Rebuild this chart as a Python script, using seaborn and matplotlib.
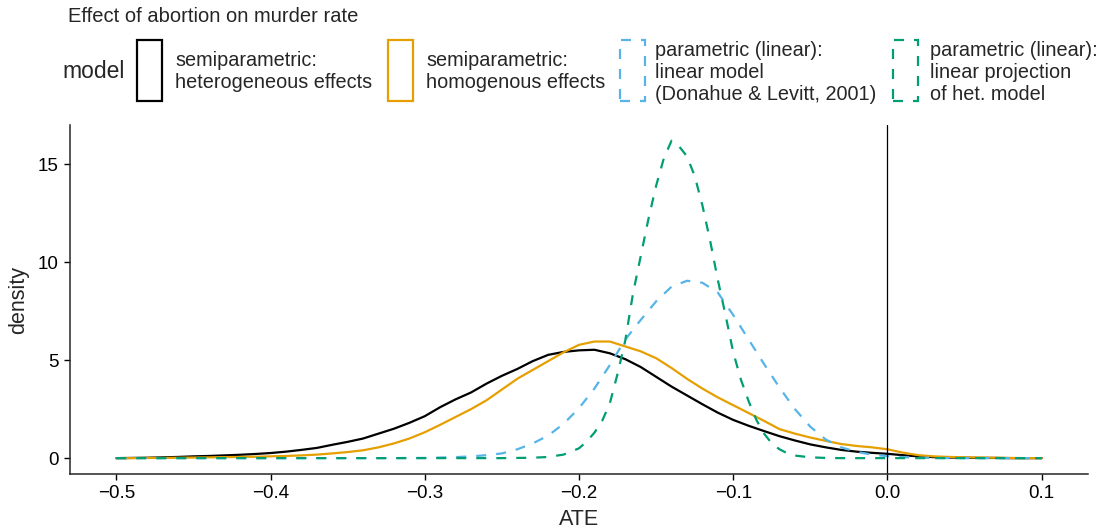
import numpy as np
import pandas as pd
import matplotlib
matplotlib.use('Agg')
import matplotlib.pyplot as plt
from matplotlib.patches import Rectangle
import seaborn as sns

sns.set_style('ticks')
plt.rcParams['font.family'] = ['Liberation Sans', 'DejaVu Sans']

# ATE grid (step 0.01) used by the first three curves
ate = np.round(np.arange(-0.50, 0.1001, 0.01), 2)

# semiparametric: heterogeneous effects (black)
dens_het = [0.00, 0.01, 0.02, 0.04, 0.06, 0.09, 0.11, 0.14, 0.17, 0.21,
            0.26, 0.33, 0.42, 0.52, 0.68, 0.83, 1.00, 1.25, 1.50, 1.80,
            2.14, 2.60, 3.00, 3.35, 3.80, 4.20, 4.55, 4.95, 5.27, 5.42,
            5.50, 5.53, 5.35, 5.05, 4.65, 4.15, 3.65, 3.20, 2.75, 2.32,
            1.95, 1.65, 1.38, 1.12, 0.90, 0.70, 0.55, 0.42, 0.33, 0.27,
            0.22, 0.15, 0.09, 0.05, 0.03, 0.02, 0.01, 0.01, 0.00, 0.00, 0.00]

# semiparametric: homogenous effects (orange)
dens_hom = [0.00, 0.00, 0.01, 0.01, 0.02, 0.03, 0.04, 0.05, 0.06, 0.07,
            0.09, 0.11, 0.14, 0.18, 0.24, 0.31, 0.40, 0.55, 0.75, 1.00,
            1.32, 1.70, 2.10, 2.50, 2.95, 3.50, 4.05, 4.50, 4.95, 5.40,
            5.78, 5.95, 5.95, 5.70, 5.45, 5.10, 4.60, 4.05, 3.55, 3.10,
            2.70, 2.30, 1.90, 1.48, 1.25, 1.05, 0.88, 0.72, 0.62, 0.55,
            0.45, 0.28, 0.15, 0.09, 0.06, 0.04, 0.03, 0.02, 0.01, 0.00, 0.00]

# parametric (linear): linear model, Donahue & Levitt (blue)
dens_lin = [0.00, 0.00, 0.00, 0.00, 0.00, 0.00, 0.00, 0.00, 0.00, 0.00,
            0.00, 0.00, 0.00, 0.00, 0.00, 0.00, 0.00, 0.00, 0.00, 0.01,
            0.01, 0.03, 0.05, 0.09, 0.15, 0.24, 0.45, 0.75, 1.15, 1.75,
            2.55, 3.55, 4.75, 6.05, 7.05, 8.00, 8.75, 9.05, 8.95, 8.45,
            7.30, 6.05, 4.80, 3.60, 2.50, 1.60, 0.95, 0.55, 0.32, 0.18,
            0.10, 0.05, 0.02, 0.01, 0.00, 0.00, 0.00, 0.00, 0.00, 0.00, 0.00]

# parametric (linear): linear projection of het. model (green), finer grid near the peak
ate_proj = [-0.50, -0.40, -0.30, -0.25, -0.23, -0.22, -0.21, -0.20, -0.195, -0.19,
            -0.185, -0.18, -0.175, -0.17, -0.165, -0.16, -0.155, -0.15, -0.145, -0.14,
            -0.135, -0.13, -0.125, -0.12, -0.115, -0.11, -0.105, -0.10, -0.095, -0.09,
            -0.085, -0.08, -0.075, -0.07, -0.065, -0.06, -0.05, -0.04, -0.03, 0.00,
            0.05, 0.10]
dens_proj = [0.00, 0.00, 0.00, 0.00, 0.02, 0.06, 0.18, 0.50, 0.85, 1.30,
             1.90, 2.80, 4.30, 6.00, 8.40, 10.30, 12.20, 13.90, 15.30, 16.20,
             15.90, 15.40, 14.40, 12.90, 11.10, 9.10, 7.30, 5.40, 4.00, 2.90,
             1.95, 1.25, 0.75, 0.45, 0.25, 0.13, 0.04, 0.01, 0.00, 0.00,
             0.00, 0.00]

models = ['het', 'hom', 'lin', 'proj']
labels = ['semiparametric:\nheterogeneous effects',
          'semiparametric:\nhomogenous effects',
          'parametric (linear):\nlinear model\n(Donahue & Levitt, 2001)',
          'parametric (linear):\nlinear projection\nof het. model']
colors = ['#000000', '#E69F00', '#56B4E9', '#009E73']

df = pd.concat([
    pd.DataFrame({'ATE': ate, 'density': dens_het, 'model': 'het'}),
    pd.DataFrame({'ATE': ate, 'density': dens_hom, 'model': 'hom'}),
    pd.DataFrame({'ATE': ate, 'density': dens_lin, 'model': 'lin'}),
    pd.DataFrame({'ATE': ate_proj, 'density': dens_proj, 'model': 'proj'}),
], ignore_index=True)

W, H = 1103, 531
fig = plt.figure(figsize=(W / 100, H / 100), dpi=100)
ax = fig.add_axes([70 / W, 57 / H, 1018 / W, 349 / H])

dash = (4.5, 4.5)
sns.lineplot(data=df, x='ATE', y='density', hue='model', style='model',
             hue_order=models, style_order=models,
             palette=dict(zip(models, colors)),
             dashes={'het': '', 'hom': '', 'lin': dash, 'proj': dash},
             estimator=None, linewidth=1.6, legend=False, ax=ax)
ax.axvline(0, color='black', lw=0.9)

ax.set_xlim(-0.53, 0.13)
ax.set_ylim(-0.81, 17.0)
ax.set_xticks([-0.5, -0.4, -0.3, -0.2, -0.1, 0.0, 0.1])
ax.set_xticklabels(['\u22120.5', '\u22120.4', '\u22120.3', '\u22120.2', '\u22120.1', '0.0', '0.1'])
ax.set_yticks([0, 5, 10, 15])
ax.tick_params(labelsize=13.5, length=4.2, width=1.0, colors='black', pad=4)
for s in ['left', 'bottom']:
    ax.spines[s].set_linewidth(1.1)
sns.despine(ax=ax)
ax.set_xlabel('ATE', fontsize=15.5, labelpad=5)
ax.set_ylabel('density', fontsize=15.5, labelpad=6)


def fx(px):
    return px / W


def fy(py):
    return 1 - py / H


# legend drawn by hand: title on the left, outlined keys
fig.text(fx(68), fy(17), 'Effect of abortion on murder rate', fontsize=14.5, va='center')
fig.text(fx(62), fy(72), 'model', fontsize=16.5, va='center')
key_x = [137, 388, 620, 893]
text_x = [175, 426, 655, 930]
styles = ['-', '-', (0, dash), (0, dash)]
for kx, tx, lab, col, ls in zip(key_x, text_x, labels, colors, styles):
    fig.add_artist(Rectangle((fx(kx), fy(101)), 25 / W, 61 / H, transform=fig.transFigure,
                             fill=False, edgecolor=col, lw=1.6, linestyle=ls))
    fig.text(fx(tx), fy(72), lab, fontsize=14.3, va='center', ha='left', linespacing=1.2)

fig.savefig('out.png', dpi=100)
